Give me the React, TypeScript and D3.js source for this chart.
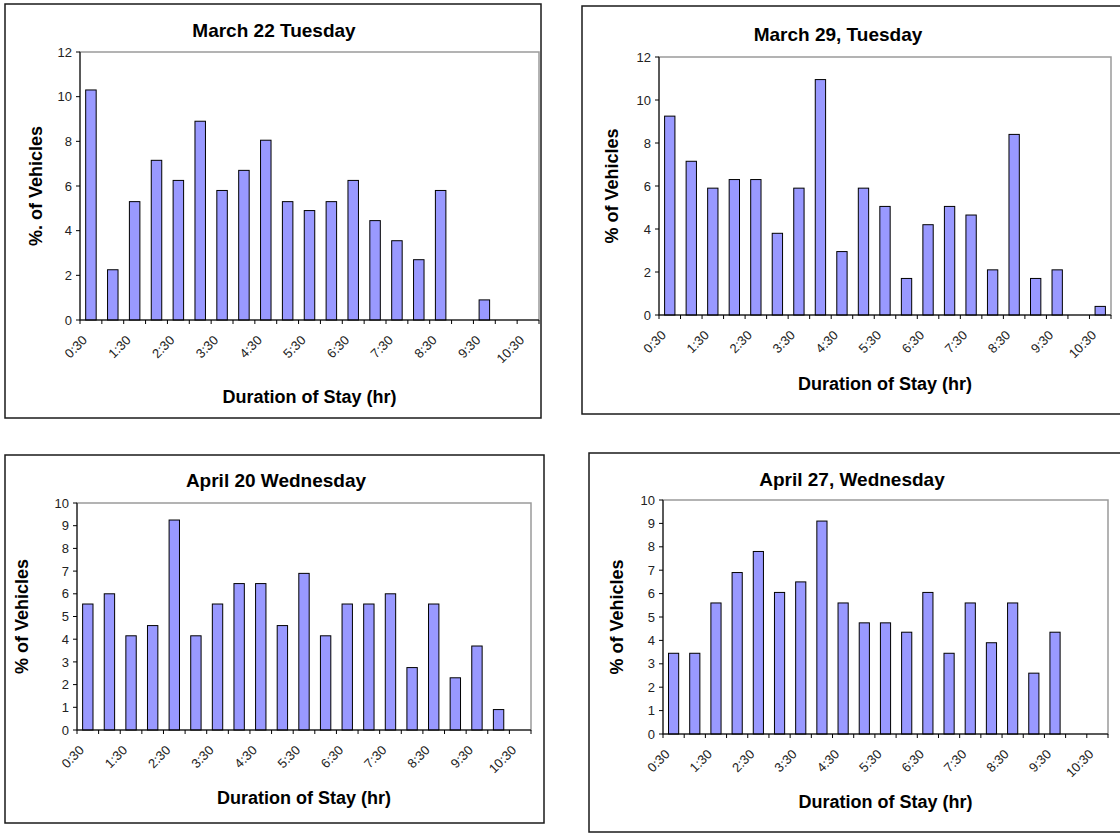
import React from "react";
import * as d3 from "d3";

// Duration-of-stay categories (half-hour bins)
const durations = [
  "0:30", "1:00", "1:30", "2:00", "2:30", "3:00", "3:30", "4:00", "4:30", "5:00",
  "5:30", "6:00", "6:30", "7:00", "7:30", "8:00", "8:30", "9:00", "9:30", "10:00", "10:30",
];

// Percentage of vehicles per duration bin (null = no vehicles recorded)
const march22: (number | null)[] = [
  10.3, 2.25, 5.3, 7.15, 6.25, 8.9, 5.8, 6.7, 8.05, 5.3,
  4.9, 5.3, 6.25, 4.45, 3.55, 2.7, 5.8, null, 0.9, null, null,
];
const march29: (number | null)[] = [
  9.25, 7.15, 5.9, 6.3, 6.3, 3.8, 5.9, 10.95, 2.95, 5.9,
  5.05, 1.7, 4.2, 5.05, 4.65, 2.1, 8.4, 1.7, 2.1, null, 0.4,
];
const april20: (number | null)[] = [
  5.55, 6.0, 4.15, 4.6, 9.25, 4.15, 5.55, 6.45, 6.45, 4.6,
  6.9, 4.15, 5.55, 5.55, 6.0, 2.75, 5.55, 2.3, 3.7, 0.9, null,
];
const april27: (number | null)[] = [
  3.45, 3.45, 5.6, 6.9, 7.8, 6.05, 6.5, 9.1, 5.6, 4.75,
  4.75, 4.35, 6.05, 3.45, 5.6, 3.9, 5.6, 2.6, 4.35, null, null,
];

const yTicksTo12 = [0, 2, 4, 6, 8, 10, 12];
const yTicksTo10 = [0, 1, 2, 3, 4, 5, 6, 7, 8, 9, 10];

const titles = ["March 22 Tuesday", "March 29, Tuesday", "April 20 Wednesday", "April 27, Wednesday"];
const yTitles = ["%. of Vehicles", "% of Vehicles", "% of Vehicles", "% of Vehicles"];
const xTitle = "Duration of Stay (hr)";

const FONT = "'Liberation Sans', Arial, Helvetica, sans-serif";

type Layout = {
  frame: [number, number, number, number]; // x0, y0, x1, y1
  plot: [number, number, number, number]; // left, top, right, bottom
  titleX: number;
  titleY: number;
  yTitleX: number;
  xTitleY: number;
};

const layouts: Layout[] = [
  { frame: [5, 4, 541, 418], plot: [80, 52, 539, 320], titleX: 274, titleY: 37, yTitleX: 36, xTitleY: 403 },
  { frame: [582, 6, 1126, 414], plot: [659, 57, 1111, 315], titleX: 838, titleY: 41, yTitleX: 612, xTitleY: 390 },
  { frame: [5, 455, 544, 823], plot: [77, 503, 531, 730], titleX: 276, titleY: 487, yTitleX: 22, xTitleY: 804 },
  { frame: [589, 453, 1126, 832], plot: [663, 500, 1108, 734], titleX: 852, titleY: 486, yTitleX: 617, xTitleY: 808 },
];

const seriesList = [march22, march29, april20, april27];
const yTickSets = [yTicksTo12, yTicksTo12, yTicksTo10, yTicksTo10];

function Panel({ idx }: { idx: number }) {
  const L = layouts[idx];
  const values = seriesList[idx];
  const yTicks = yTickSets[idx];
  const [left, top, right, bottom] = L.plot;
  const [fx0, fy0, fx1, fy1] = L.frame;

  const x = d3.scaleBand<string>().domain(durations).range([left, right]).paddingInner(0.52).paddingOuter(0.26);
  const y = d3.scaleLinear().domain([0, d3.max(yTicks) as number]).range([bottom, top]);
  const step = x.step();
  const x0 = x.range()[0];
  const boundaries = d3.range(durations.length + 1).map((i) => x0 + i * step);

  return (
    <g>
      <rect x={fx0} y={fy0} width={fx1 - fx0} height={fy1 - fy0} fill="#fff" stroke="#1a1a1a" strokeWidth={1.5} />
      <text x={L.titleX} y={L.titleY} textAnchor="middle" fontFamily={FONT} fontWeight="bold" fontSize={19} fill="#000">
        {titles[idx]}
      </text>
      <rect x={left} y={top} width={right - left} height={bottom - top} fill="#fff" stroke="#9a9a9a" strokeWidth={1.5} />
      {values.map((v, i) =>
        v == null ? null : (
          <rect
            key={i}
            x={(x(durations[i]) as number)}
            y={y(v)}
            width={x.bandwidth()}
            height={y(0) - y(v)}
            fill="#9999ff"
            stroke="#000"
            strokeWidth={1}
          />
        )
      )}
      {/* value axis */}
      <line x1={left} x2={left} y1={top} y2={bottom} stroke="#000" strokeWidth={1} />
      {yTicks.map((t) => (
        <g key={t}>
          <line x1={left - 4} x2={left} y1={y(t)} y2={y(t)} stroke="#000" strokeWidth={1} />
          <text x={left - 8} y={y(t)} dy="0.36em" textAnchor="end" fontFamily={FONT} fontSize={13} fill="#222">
            {t}
          </text>
        </g>
      ))}
      {/* category axis */}
      <line x1={left} x2={right} y1={bottom} y2={bottom} stroke="#000" strokeWidth={1} />
      {boundaries.map((bx, i) => (
        <line key={i} x1={bx} x2={bx} y1={bottom} y2={bottom + 4} stroke="#000" strokeWidth={1} />
      ))}
      {durations.map((d, i) =>
        i % 2 === 0 ? (
          <text
            key={d}
            transform={`translate(${(x(d) as number) + x.bandwidth() / 2 - 3},${bottom + 21}) rotate(-45)`}
            textAnchor="end"
            fontFamily={FONT}
            fontSize={13}
            fill="#222"
          >
            {d}
          </text>
        ) : null
      )}
      <text
        transform={`translate(${L.yTitleX},${(top + bottom) / 2}) rotate(-90)`}
        textAnchor="middle"
        dy="0.35em"
        fontFamily={FONT}
        fontWeight="bold"
        fontSize={18}
        fill="#000"
      >
        {yTitles[idx]}
      </text>
      <text x={(left + right) / 2} y={L.xTitleY} textAnchor="middle" fontFamily={FONT} fontWeight="bold" fontSize={18} fill="#000">
        {xTitle}
      </text>
    </g>
  );
}

export default function App() {
  return (
    <svg
      width={1120}
      height={834}
      viewBox="0 0 1120 834"
      style={{ position: "absolute", left: 0, top: 0, display: "block", background: "#fff" }}
    >
      <rect x={0} y={0} width={1120} height={834} fill="#fff" />
      {layouts.map((_, i) => (
        <Panel key={i} idx={i} />
      ))}
    </svg>
  );
}
